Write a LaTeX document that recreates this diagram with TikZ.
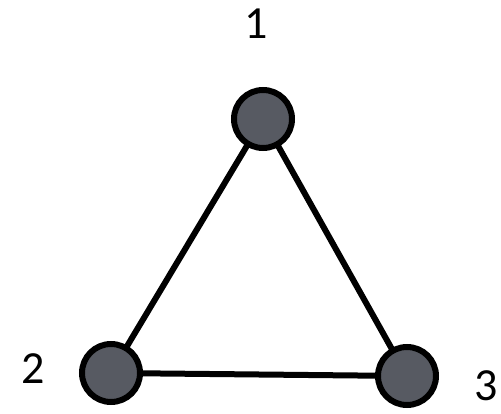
\documentclass[tikz,border=0pt]{standalone}
\usepackage{fontspec}
\setmainfont{Carlito}
\usepackage{xcolor}
\definecolor{vgray}{HTML}{575A62}
\usetikzlibrary{positioning, backgrounds}

\begin{document}
\begin{tikzpicture}[
        x=1pt, y=-1pt,
        every node/.style={font=\fontsize{46}{50}\selectfont},
        vertex/.style={circle, draw=black, line width=6pt, fill=vgray, minimum size=58pt, inner sep=0pt},
        edge/.style={line width=6pt, line cap=round}
        ]
        \useasboundingbox (0,0) rectangle (501,414);
        % Nodes
        \node[vertex] (v1) at (263,119) {};
        \node[vertex] (v2) at (111,373) {};
        \node[vertex] (v3) at (407,376) {};

        % Labels
        \node (l1) at (256,24) {1};
        \node (l2) at (33,369) {2};
        \node (l3) at (486,386) {3};

        % Edges
        \begin{scope}[on background layer]
        \draw[edge] (v1.center) -- (v2.center);
        \draw[edge] (v2.center) -- (v3.center);
        \draw[edge] (v3.center) -- (v1.center);
        \end{scope}
    \end{tikzpicture}
\end{document}
